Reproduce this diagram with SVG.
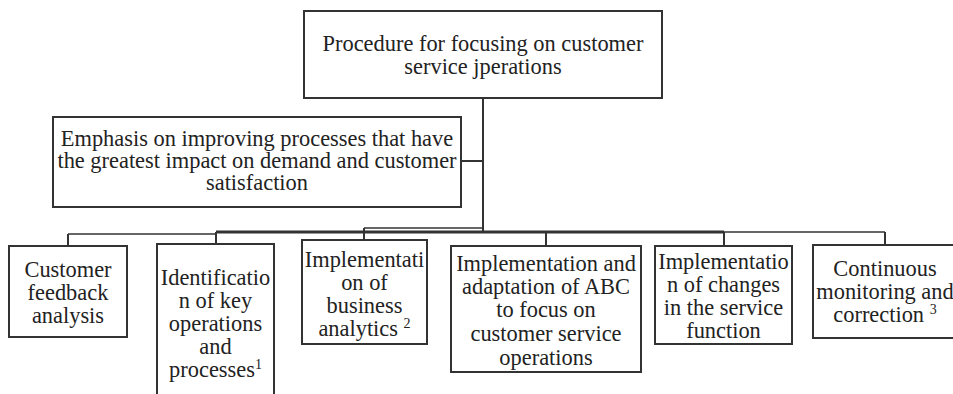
<svg xmlns="http://www.w3.org/2000/svg" width="953" height="394" viewBox="0 0 953 394">
<defs>
<style>
rect.box{fill:#fff;stroke:#333;stroke-width:2}
.c{stroke:#333;fill:none;stroke-width:2}
.thick{stroke-width:3}
.thin{stroke-width:1.6}
</style>
</defs>
<rect width="953" height="394" fill="#fff"/>
<g id="connectors">
<line class="c" x1="483" y1="98" x2="483" y2="232"/>
<line class="c" x1="461" y1="161" x2="483" y2="161"/>
<line class="c thin" x1="68" y1="234" x2="216" y2="234"/>
<line class="c thick" x1="216" y1="232" x2="724" y2="232"/>
<line class="c thin" x1="724" y1="232" x2="885" y2="232"/>
<line class="c thin" x1="364" y1="228" x2="483" y2="228"/>
<line class="c" x1="68" y1="234" x2="68" y2="246"/>
<line class="c" x1="216" y1="232" x2="216" y2="244"/>
<line class="c" x1="364" y1="228" x2="364" y2="240"/>
<line class="c" x1="546" y1="232" x2="546" y2="246"/>
<line class="c" x1="724" y1="232" x2="724" y2="246"/>
<line class="c" x1="885" y1="232" x2="885" y2="245"/>
</g>
<g id="root">
<rect class="box" x="304" y="11" width="358" height="87"/>
<text x="483" y="51" font-family="Liberation Serif" font-size="22.4" fill="#222" text-anchor="middle">Procedure for focusing on customer</text>
<text x="483" y="73.5" font-family="Liberation Serif" font-size="22.4" fill="#222" text-anchor="middle">service jperations</text>
</g>
<g id="emphasis">
<rect class="box" x="53" y="117" width="408" height="90"/>
<text x="257" y="146" font-family="Liberation Serif" font-size="22.4" fill="#222" text-anchor="middle">Emphasis on improving processes that have</text>
<text x="257" y="168" font-family="Liberation Serif" font-size="22.4" fill="#222" text-anchor="middle">the greatest impact on demand and customer</text>
<text x="257" y="190" font-family="Liberation Serif" font-size="22.4" fill="#222" text-anchor="middle">satisfaction</text>
</g>
<g id="n1">
<rect class="box" x="9" y="246" width="118" height="91"/>
<text x="68" y="277" font-family="Liberation Serif" font-size="22.4" fill="#222" text-anchor="middle">Customer</text>
<text x="68" y="300" font-family="Liberation Serif" font-size="22.4" fill="#222" text-anchor="middle">feedback</text>
<text x="68" y="323" font-family="Liberation Serif" font-size="22.4" fill="#222" text-anchor="middle">analysis</text>
</g>
<g id="n2">
<rect class="box" x="157" y="244" width="117" height="170"/>
<text x="215.5" y="285" font-family="Liberation Serif" font-size="22.4" fill="#222" text-anchor="middle">Identificatio</text>
<text x="215.5" y="308" font-family="Liberation Serif" font-size="22.4" fill="#222" text-anchor="middle">n of key</text>
<text x="215.5" y="331" font-family="Liberation Serif" font-size="22.4" fill="#222" text-anchor="middle">operations</text>
<text x="215.5" y="354" font-family="Liberation Serif" font-size="22.4" fill="#222" text-anchor="middle">and</text>
<text x="215.5" y="377" font-family="Liberation Serif" font-size="22.4" fill="#222" text-anchor="middle">processes<tspan font-size="14" dy="-8">1</tspan></text>
</g>
<g id="n3">
<rect class="box" x="302" y="240" width="125" height="104"/>
<text x="364.5" y="267" font-family="Liberation Serif" font-size="22.4" fill="#222" text-anchor="middle">Implementati</text>
<text x="364.5" y="290" font-family="Liberation Serif" font-size="22.4" fill="#222" text-anchor="middle">on of</text>
<text x="364.5" y="313" font-family="Liberation Serif" font-size="22.4" fill="#222" text-anchor="middle">business</text>
<text x="364.5" y="336" font-family="Liberation Serif" font-size="22.4" fill="#222" text-anchor="middle">analytics <tspan font-size="14" dy="-8">2</tspan></text>
</g>
<g id="n4">
<rect class="box" x="451" y="246" width="190" height="126"/>
<text x="546" y="271" font-family="Liberation Serif" font-size="22.4" fill="#222" text-anchor="middle">Implementation and</text>
<text x="546" y="294" font-family="Liberation Serif" font-size="22.4" fill="#222" text-anchor="middle">adaptation of ABC</text>
<text x="546" y="317" font-family="Liberation Serif" font-size="22.4" fill="#222" text-anchor="middle">to focus on</text>
<text x="546" y="341" font-family="Liberation Serif" font-size="22.4" fill="#222" text-anchor="middle">customer service</text>
<text x="546" y="365" font-family="Liberation Serif" font-size="22.4" fill="#222" text-anchor="middle">operations</text>
</g>
<g id="n5">
<rect class="box" x="655" y="246" width="137" height="98"/>
<text x="723.5" y="269" font-family="Liberation Serif" font-size="22.4" fill="#222" text-anchor="middle">Implementatio</text>
<text x="723.5" y="292" font-family="Liberation Serif" font-size="22.4" fill="#222" text-anchor="middle">n of changes</text>
<text x="723.5" y="315" font-family="Liberation Serif" font-size="22.4" fill="#222" text-anchor="middle">in the service</text>
<text x="723.5" y="338" font-family="Liberation Serif" font-size="22.4" fill="#222" text-anchor="middle">function</text>
</g>
<g id="n6">
<rect class="box" x="813" y="245" width="150" height="93"/>
<text x="885" y="276" font-family="Liberation Serif" font-size="22.4" fill="#222" text-anchor="middle">Continuous</text>
<text x="885" y="299" font-family="Liberation Serif" font-size="22.4" fill="#222" text-anchor="middle">monitoring and</text>
<text x="885" y="322" font-family="Liberation Serif" font-size="22.4" fill="#222" text-anchor="middle">correction <tspan font-size="14" dy="-8">3</tspan></text>
</g>
</svg>
